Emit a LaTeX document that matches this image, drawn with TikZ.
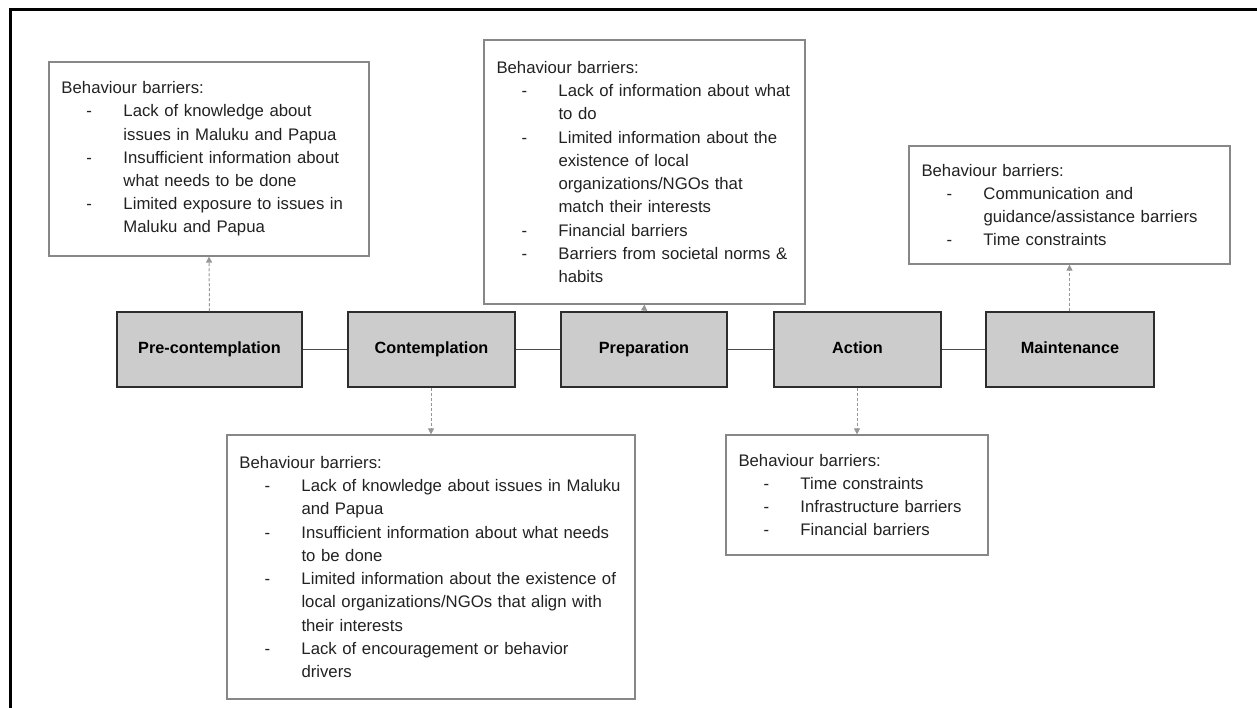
\documentclass[tikz,border=0pt]{standalone}
\usepackage{fontspec}
\setmainfont{Liberation Sans}
\usetikzlibrary{arrows.meta}

\definecolor{stagefill}{RGB}{204,204,204}
\definecolor{stageedge}{RGB}{45,45,45}
\definecolor{boxedge}{RGB}{135,135,135}
\definecolor{linkgray}{RGB}{150,150,150}
\definecolor{textdark}{RGB}{34,34,34}

% dash of a bullet line, and indent of a wrapped line
\newcommand\dashitem{\makebox[62bp][l]{\hspace*{25bp}-}}
\newcommand\contline{\hspace*{62bp}}

\tikzset{
  stagebox/.style={draw=stageedge, line width=1.5bp, fill=stagefill,
    minimum height=75bp, inner sep=0pt, text height=11.8bp, text depth=3.6bp,
    font=\fontsize{16.3}{20}\selectfont\bfseries, text=black},
  barrierbox/.style={draw=boxedge, line width=1.2bp, fill=white,
    inner xsep=12.5bp, inner ysep=0pt, align=left,
    font=\fontsize{16.8}{23.3}\selectfont, text=textdark},
  stagelink/.style={draw=stageedge!85, line width=1.1bp},
  barrierlink/.style={draw=linkgray, line width=1bp, dash pattern=on 3bp off 2bp,
    -{Triangle[width=6bp,length=6bp]}},
}

\begin{document}
\begin{tikzpicture}[x=1bp, y=-1bp]
\useasboundingbox (0,0) rectangle (1257,708);

% page frame (top and left edges)
\draw[line width=2.8bp, black] (1257,9.3) -- (10.5,9.3) -- (10.5,708);

% stages
\node[stagebox, minimum width=185bp] (pre)  at (209.5,349.5) {Pre-contemplation};
\node[stagebox, minimum width=167bp] (con)  at (431.5,349.5) {Contemplation};
\node[stagebox, minimum width=166bp] (prep) at (644,349.5)   {Preparation};
\node[stagebox, minimum width=167bp] (act)  at (857.5,349.5) {Action};
\node[stagebox, minimum width=168bp] (main) at (1070,349.5)  {Maintenance};

\draw[stagelink] (pre) -- (con);
\draw[stagelink] (con) -- (prep);
\draw[stagelink] (prep) -- (act);
\draw[stagelink] (act) -- (main);

% barrier boxes
\node[barrierbox, text width=295bp, minimum height=194bp] (bpre) at (209,159) {%
Behaviour barriers:\\
\dashitem Lack of knowledge about\\
\contline issues in Maluku and Papua\\
\dashitem Insufficient information about\\
\contline what needs to be done\\
\dashitem Limited exposure to issues in\\
\contline Maluku and Papua};

\node[barrierbox, text width=383bp, minimum height=264bp] (bcon) at (431,567) {%
Behaviour barriers:\\
\dashitem Lack of knowledge about issues in Maluku\\
\contline and Papua\\
\dashitem Insufficient information about what needs\\
\contline to be done\\
\dashitem Limited information about the existence of\\
\contline local organizations/NGOs that align with\\
\contline their interests\\
\dashitem Lack of encouragement or behavior\\
\contline drivers};

\node[barrierbox, text width=296bp, minimum height=264bp] (bprep) at (644.5,172) {%
Behaviour barriers:\\
\dashitem Lack of information about what\\
\contline to do\\
\dashitem Limited information about the\\
\contline existence of local\\
\contline organizations/NGOs that\\
\contline match their interests\\
\dashitem Financial barriers\\
\dashitem Barriers from societal norms \&\\
\contline habits};

\node[barrierbox, text width=237bp, minimum height=120bp] (bact) at (857,495) {%
Behaviour barriers:\\
\dashitem Time constraints\\
\dashitem Infrastructure barriers\\
\dashitem Financial barriers};

\node[barrierbox, text width=296bp, minimum height=118bp] (bmain) at (1069.5,205) {%
Behaviour barriers:\\
\dashitem Communication and\\
\contline guidance/assistance barriers\\
\dashitem Time constraints};

% links from stages to their barriers
\draw[barrierlink] (pre.north) -- (bpre.south);
\draw[barrierlink] (con.south -| bcon.north) -- (bcon.north);
\draw[barrierlink] (prep.north) -- (bprep.south);
\draw[barrierlink] (act.south -| bact.north) -- (bact.north);
\draw[barrierlink] (main.north -| bmain.south) -- (bmain.south);
\end{tikzpicture}
\end{document}
